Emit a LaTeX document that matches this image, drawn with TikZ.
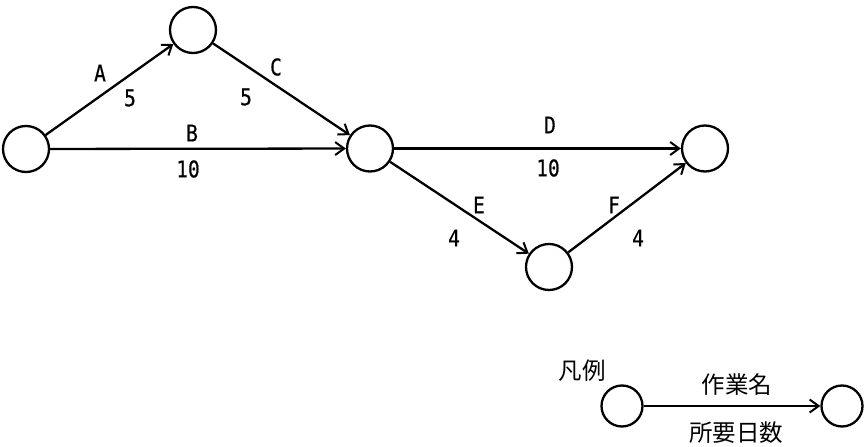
\documentclass[tikz,border=0pt]{standalone}
\usepackage{fontspec}
\usetikzlibrary{arrows.meta}
\newfontfamily\labfont[FakeStretch=0.85,FakeBold=0.5]{DejaVu Sans Mono}
\newfontfamily\jpfont{Noto Sans CJK JP}
\begin{document}
\begin{tikzpicture}[x=1pt,y=-1pt,
  ev/.style={circle,draw,line width=2.3pt,minimum size=46pt,inner sep=0pt},
  lev/.style={circle,draw,line width=2.3pt,minimum size=41pt,inner sep=0pt},
  act/.style={draw,line width=2.3pt,-{Straight Barb[length=9pt,width=13pt,line width=2pt]}},
  lab/.style={font=\labfont\fontsize{23}{23}\selectfont,inner sep=0pt},
  jlab/.style={font=\jpfont\fontsize{23.5}{23.5}\selectfont,inner sep=0pt}]
\useasboundingbox (0,0) rectangle (865,447);
\node[ev] (n1) at (26,149) {};
\node[ev] (n2) at (193,30) {};
\node[ev] (n3) at (370,148.5) {};
\node[ev] (n4) at (705,148.5) {};
\node[ev] (n5) at (549,267) {};
\draw[act] (n1) -- (n2);
\draw[act] (n1) -- (n3);
\draw[act] (n2) -- (n3);
\draw[act] (n3) -- (n4);
\draw[act] (n3) -- (n5);
\draw[act] (n5) -- (n4);
\node[lab] (la) at (100,73) {A};
\node[lab] (da) at (130,98) {5};
\node[lab] (lc) at (276,67) {C};
\node[lab] (dc) at (246,97) {5};
\node[lab] (lb) at (192,133) {B};
\node[lab] (db) at (188,169) {10};
\node[lab] (ld) at (550,125) {D};
\node[lab] (dd) at (548,168) {10};
\node[lab] (le) at (479,205) {E};
\node[lab] (de) at (454,238) {4};
\node[lab] (lf) at (614,205) {F};
\node[lab] (df) at (638,238) {4};
% legend
\node[jlab] (hanrei) at (582,371) {凡例};
\node[lev] (l1) at (622,406) {};
\node[lev] (l2) at (842,406) {};
\draw[act] (l1) -- (l2);
\node[jlab] (sagyo) at (737,385) {作業名};
\node[jlab] (nissu) at (736,433) {所要日数};
\end{tikzpicture}
\end{document}
